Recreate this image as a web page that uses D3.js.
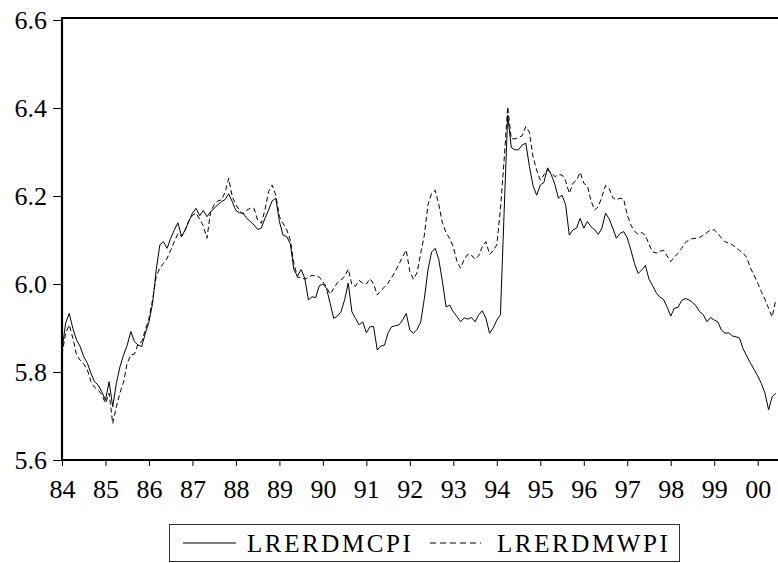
<!DOCTYPE html>
<html>
<head>
<meta charset="utf-8">
<script src="https://cdn.jsdelivr.net/npm/d3@7"></script>
<style>
  body { margin: 0; background: #fff; }
  svg { display: block; }
  text { font-family: "Liberation Serif", "Times New Roman", serif; fill: #000; }
</style>
</head>
<body>
<svg width="778" height="563"></svg>
<script>
// monthly, 1984M01 .. 2000M06
const yearLabels = ["84", "85", "86", "87", "88", "89", "90", "91", "92", "93", "94", "95", "96", "97", "98", "99", "00"];
const yTicks = [5.6, 5.8, 6.0, 6.2, 6.4, 6.6];

const lrerdmcpi = [
    5.850, 5.911, 5.933, 5.899, 5.873, 5.858, 5.835, 5.820, 5.797, 5.778, 5.770, 5.755,
    5.736, 5.778, 5.721, 5.774, 5.812, 5.839, 5.861, 5.892, 5.869, 5.861, 5.858, 5.888,
    5.914, 5.956, 6.032, 6.089, 6.096, 6.081, 6.104, 6.123, 6.139, 6.108, 6.123, 6.142,
    6.161, 6.172, 6.155, 6.167, 6.153, 6.164, 6.172, 6.180, 6.187, 6.192, 6.205, 6.187,
    6.167, 6.162, 6.161, 6.149, 6.142, 6.134, 6.124, 6.127, 6.149, 6.168, 6.189, 6.195,
    6.142, 6.111, 6.108, 6.092, 6.032, 6.018, 6.033, 6.013, 5.964, 5.971, 5.969, 5.996,
    6.000, 5.990, 5.956, 5.922, 5.927, 5.937, 5.964, 6.002, 5.937, 5.922, 5.907, 5.914,
    5.889, 5.903, 5.903, 5.850, 5.859, 5.861, 5.889, 5.903, 5.905, 5.907, 5.918, 5.933,
    5.895, 5.888, 5.897, 5.914, 5.967, 6.032, 6.073, 6.081, 6.055, 6.005, 5.948, 5.952,
    5.937, 5.926, 5.914, 5.923, 5.920, 5.924, 5.914, 5.930, 5.939, 5.922, 5.888, 5.900,
    5.918, 5.930, 6.160, 6.384, 6.310, 6.305, 6.305, 6.316, 6.320, 6.267, 6.223, 6.202,
    6.225, 6.231, 6.264, 6.249, 6.227, 6.195, 6.202, 6.180, 6.111, 6.123, 6.127, 6.149,
    6.127, 6.142, 6.130, 6.123, 6.113, 6.127, 6.161, 6.148, 6.127, 6.104, 6.115, 6.119,
    6.105, 6.077, 6.047, 6.024, 6.032, 6.042, 6.011, 5.996, 5.980, 5.970, 5.965, 5.948,
    5.927, 5.945, 5.947, 5.962, 5.967, 5.964, 5.958, 5.950, 5.937, 5.930, 5.914, 5.924,
    5.918, 5.914, 5.895, 5.888, 5.889, 5.882, 5.880, 5.877, 5.852, 5.836, 5.820, 5.806,
    5.791, 5.774, 5.752, 5.714, 5.744, 5.752
];

const lrerdmwpi = [
    5.840, 5.888, 5.907, 5.877, 5.839, 5.827, 5.818, 5.805, 5.778, 5.765, 5.759, 5.748,
    5.729, 5.752, 5.683, 5.721, 5.752, 5.778, 5.820, 5.839, 5.841, 5.864, 5.869, 5.895,
    5.922, 5.964, 6.017, 6.036, 6.047, 6.058, 6.077, 6.096, 6.115, 6.108, 6.123, 6.144,
    6.156, 6.161, 6.147, 6.132, 6.104, 6.164, 6.180, 6.189, 6.191, 6.208, 6.240, 6.198,
    6.180, 6.167, 6.159, 6.168, 6.172, 6.172, 6.145, 6.138, 6.168, 6.210, 6.225, 6.202,
    6.153, 6.138, 6.124, 6.100, 6.047, 6.015, 6.015, 6.011, 6.015, 6.020, 6.018, 6.016,
    6.005, 5.993, 5.977, 5.990, 6.003, 6.009, 6.017, 6.034, 5.998, 5.995, 6.008, 6.002,
    6.000, 6.012, 6.000, 5.975, 5.985, 5.993, 6.002, 6.015, 6.029, 6.045, 6.062, 6.077,
    6.028, 6.011, 6.026, 6.070, 6.111, 6.180, 6.206, 6.213, 6.180, 6.138, 6.117, 6.103,
    6.085, 6.051, 6.036, 6.056, 6.068, 6.066, 6.056, 6.064, 6.085, 6.096, 6.067, 6.076,
    6.089, 6.170, 6.280, 6.403, 6.330, 6.330, 6.333, 6.337, 6.358, 6.345, 6.289, 6.259,
    6.236, 6.248, 6.259, 6.253, 6.244, 6.248, 6.248, 6.234, 6.206, 6.229, 6.236, 6.254,
    6.229, 6.223, 6.189, 6.168, 6.176, 6.198, 6.224, 6.217, 6.196, 6.191, 6.195, 6.193,
    6.157, 6.134, 6.120, 6.113, 6.117, 6.111, 6.090, 6.073, 6.070, 6.074, 6.077, 6.064,
    6.051, 6.061, 6.070, 6.081, 6.094, 6.100, 6.103, 6.104, 6.106, 6.111, 6.117, 6.123,
    6.123, 6.115, 6.104, 6.096, 6.093, 6.089, 6.083, 6.076, 6.070, 6.060, 6.036, 6.020,
    6.002, 5.983, 5.965, 5.945, 5.925, 5.965
];

const svg = d3.select("svg");
const plotLeft = 62, plotRight = 778, plotTop = 20, plotBottom = 460;
const frameTop = 18;

const x = d3.scaleLinear().domain([0, 197.6]).range([plotLeft, plotRight]);
const y = d3.scaleLinear().domain([5.6, 6.6]).range([plotBottom, plotTop]);

svg.append("rect").attr("width", 778).attr("height", 563).attr("fill", "#fff");

svg.append("defs").append("clipPath").attr("id", "plot")
    .append("rect")
    .attr("x", plotLeft).attr("y", frameTop)
    .attr("width", plotRight - plotLeft).attr("height", plotBottom - frameTop);

const line = d3.line()
    .x((d, i) => x(i))
    .y(d => y(d));

const plot = svg.append("g").attr("clip-path", "url(#plot)");

plot.append("path")
    .datum(lrerdmwpi)
    .attr("fill", "none")
    .attr("stroke", "#000")
    .attr("stroke-width", 1)
    .attr("stroke-dasharray", "5,3")
    .attr("d", line);

plot.append("path")
    .datum(lrerdmcpi)
    .attr("fill", "none")
    .attr("stroke", "#000")
    .attr("stroke-width", 1)
    .attr("d", line);

// axes
const xAxis = d3.axisBottom(x)
    .tickValues(yearLabels.map((d, i) => i * 12))
    .tickFormat((d, i) => yearLabels[i])
    .tickSize(6)
    .tickSizeOuter(0)
    .tickPadding(14);

const gx = svg.append("g")
    .attr("transform", `translate(0,${plotBottom})`)
    .call(xAxis);

const yAxis = d3.axisLeft(y)
    .tickValues(yTicks)
    .tickFormat(d3.format(".1f"))
    .tickSize(9)
    .tickSizeOuter(0)
    .tickPadding(6);

const gy = svg.append("g")
    .attr("transform", `translate(${plotLeft},0)`)
    .call(yAxis);

[gx, gy].forEach(g => {
    g.select(".domain").remove();
    g.selectAll(".tick line").attr("stroke", "#000").attr("stroke-width", 1);
    g.selectAll(".tick text")
        .style("font-family", "'Liberation Serif', 'Times New Roman', serif")
        .style("font-size", "26px")
        .attr("fill", "#000");
});

// frame: left, top, bottom
svg.append("path")
    .attr("d", `M${plotRight},${frameTop} H${plotLeft} V${plotBottom} H${plotRight}`)
    .attr("fill", "none")
    .attr("stroke", "#000")
    .attr("stroke-width", 2.2);

// legend
const legend = svg.append("g");
legend.append("rect")
    .attr("x", 169.5).attr("y", 524.5)
    .attr("width", 510).attr("height", 37)
    .attr("fill", "none")
    .attr("stroke", "#333")
    .attr("stroke-width", 1);

const legendItems = [
    { name: "LRERDMCPI", x0: 183, x1: 236, tx: 247, dash: null },
    { name: "LRERDMWPI", x0: 430, x1: 481, tx: 497, dash: "6,4" }
];

legendItems.forEach(it => {
    legend.append("line")
        .attr("x1", it.x0).attr("x2", it.x1)
        .attr("y1", 543).attr("y2", 543)
        .attr("stroke", "#000")
        .attr("stroke-width", 1)
        .attr("stroke-dasharray", it.dash);
    legend.append("text")
        .attr("x", it.tx).attr("y", 552)
        .style("font-size", "25px")
        .style("letter-spacing", "2.6px")
        .text(it.name);
});
</script>
</body>
</html>
